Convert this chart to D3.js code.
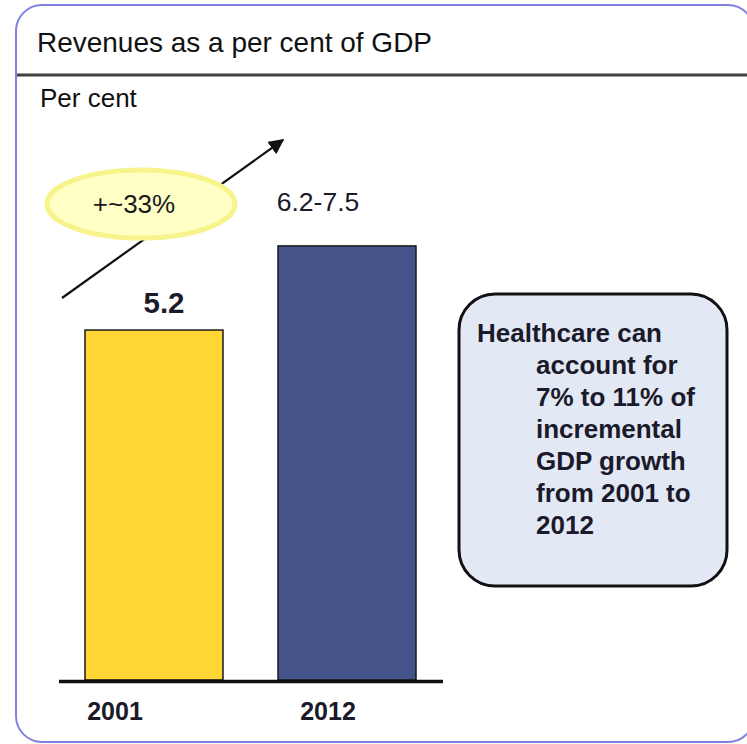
<!DOCTYPE html>
<html>
<head>
<meta charset="utf-8">
<script src="https://cdn.jsdelivr.net/npm/d3@7"></script>
<style>
  html, body { margin: 0; padding: 0; background: #fff; }
  svg { display: block; font-family: "Liberation Sans", Arial, sans-serif; }
</style>
</head>
<body>
<svg id="chart" width="747" height="744"></svg>
<script>
// Chart data
const years = ["2001", "2012"];
const revenueShare = [5.2, 6.45];          // bar heights, per cent of GDP
const valueLabels = ["5.2", "6.2-7.5"];
const valueBold = [true, false];
const barColors = ["#FFD633", "#44538A"];
const growthLabel = "+~33%";
const titleText = "Revenues as a per cent of GDP";
const unitText = "Per cent";
const noteLines = ["Healthcare can", "account for", "7% to 11% of", "incremental", "GDP growth", "from 2001 to", "2012"];

const svg = d3.select("#chart");
const W = 747, H = 744;

// Outer rounded frame
svg.append("rect")
  .attr("x", 16).attr("y", 5)
  .attr("width", 738).attr("height", 737)
  .attr("rx", 26).attr("ry", 26)
  .attr("fill", "#fff")
  .attr("stroke", "#8080E0").attr("stroke-width", 2);

// Title and separator
svg.append("text")
  .attr("x", 37).attr("y", 52)
  .attr("font-size", 28).attr("fill", "#111")
  .attr("textLength", 395).attr("lengthAdjust", "spacingAndGlyphs")
  .text(titleText);

svg.append("line")
  .attr("x1", 17).attr("x2", W).attr("y1", 75).attr("y2", 75)
  .attr("stroke", "#404040").attr("stroke-width", 3);

svg.append("text")
  .attr("x", 40).attr("y", 107)
  .attr("font-size", 26).attr("fill", "#111")
  .text(unitText);

// Scales
const x = d3.scaleBand()
  .domain(years)
  .range([85, 416])
  .paddingInner(0.285)
  .paddingOuter(0);

const y = d3.scaleLinear()
  .domain([0, 10])
  .range([680, 7]);

// Bars
svg.selectAll("rect.bar")
  .data(years)
  .join("rect")
  .attr("class", "bar")
  .attr("x", d => x(d))
  .attr("width", x.bandwidth())
  .attr("y", (d, i) => y(revenueShare[i]))
  .attr("height", (d, i) => y(0) - y(revenueShare[i]))
  .attr("fill", (d, i) => barColors[i])
  .attr("stroke", "#1a1a1a").attr("stroke-width", 1.5);

// Baseline
const [r0, r1] = x.range();
svg.append("line")
  .attr("x1", r0 - 26).attr("x2", r1 + 27)
  .attr("y1", y(0) + 1.5).attr("y2", y(0) + 1.5)
  .attr("stroke", "#111").attr("stroke-width", 3.5);

// Category labels (slightly shifted off the bar centres)
const catDx = [-39, -19];
svg.selectAll("text.cat")
  .data(years)
  .join("text")
  .attr("class", "cat")
  .attr("x", (d, i) => x(d) + x.bandwidth() / 2 + catDx[i])
  .attr("y", 720)
  .attr("text-anchor", "middle")
  .attr("font-size", 25).attr("font-weight", "bold")
  .attr("fill", "#1a1a2a")
  .text(d => d);

// Value labels
const valDx = [10, -29];
const valDy = [-17, -35];
svg.selectAll("text.val")
  .data(years)
  .join("text")
  .attr("class", "val")
  .attr("x", (d, i) => x(d) + x.bandwidth() / 2 + valDx[i])
  .attr("y", (d, i) => y(revenueShare[i]) + valDy[i])
  .attr("text-anchor", "middle")
  .attr("font-size", (d, i) => valueBold[i] ? 29.5 : 26.5)
  .attr("font-weight", (d, i) => valueBold[i] ? "bold" : "normal")
  .attr("fill", "#1a1a2a")
  .text((d, i) => valueLabels[i]);

// Growth arrow
const defs = svg.append("defs");
defs.append("marker")
  .attr("id", "arrowhead")
  .attr("viewBox", "0 0 10 10")
  .attr("refX", 9).attr("refY", 5)
  .attr("markerWidth", 7).attr("markerHeight", 7)
  .attr("orient", "auto")
  .append("path")
  .attr("d", "M0,0 L10,5 L0,10 Z")
  .attr("fill", "#111");

svg.append("line")
  .attr("x1", 62).attr("y1", 298)
  .attr("x2", 283).attr("y2", 140)
  .attr("stroke", "#111").attr("stroke-width", 2.2)
  .attr("marker-end", "url(#arrowhead)");

// Growth bubble
svg.append("ellipse")
  .attr("cx", 141).attr("cy", 204)
  .attr("rx", 94).attr("ry", 34)
  .attr("fill", "#FFFFC6")
  .attr("stroke", "#F8F48C").attr("stroke-width", 5);

svg.append("text")
  .attr("x", 134).attr("y", 213)
  .attr("text-anchor", "middle")
  .attr("font-size", 26).attr("fill", "#1a1a1a")
  .text(growthLabel);

// Note box
svg.append("rect")
  .attr("x", 459).attr("y", 294)
  .attr("width", 268).attr("height", 292)
  .attr("rx", 36).attr("ry", 36)
  .attr("fill", "#E3E8F5")
  .attr("stroke", "#111").attr("stroke-width", 3);

const note = svg.append("text")
  .attr("font-size", 26).attr("font-weight", "bold")
  .attr("fill", "#1a1a2a");
note.selectAll("tspan")
  .data(noteLines)
  .join("tspan")
  .attr("x", (d, i) => i === 0 ? 477 : 536)
  .attr("y", (d, i) => 342 + i * 32)
  .text(d => d);
</script>
</body>
</html>
